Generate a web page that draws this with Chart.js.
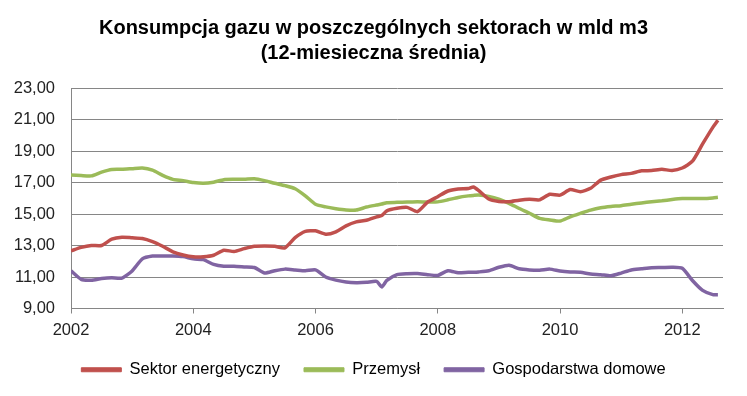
<!DOCTYPE html>
<html lang="pl">
<head>
    <meta charset="UTF-8">
    <title>Konsumpcja gazu</title>
    <script src="https://cdn.jsdelivr.net/npm/chart.js"></script>
    <style>
        html, body {
            margin: 0;
            padding: 0;
            background: #ffffff;
        }
        .wrap {
            width: 747px;
            height: 396px;
        }
    </style>
</head>
<body>
    <div class="wrap">
        <canvas id="gasChart" width="747" height="396"></canvas>
    </div>
    <script>
        // month index since Jan 2002 (12-month averages)
        const months = [0, 2, 4, 6, 8, 10, 12, 14, 16, 18, 20, 22, 24, 26, 28, 30, 32, 34, 36, 38,
            40, 42, 44, 46, 48, 50, 52, 54, 56, 58, 60, 61, 62, 64, 66, 68, 70, 72, 74, 76, 78, 79,
            80, 82, 84, 86, 88, 90, 92, 94, 96, 98, 100, 102, 104, 106, 108, 110, 112, 114, 116,
            118, 120, 122, 124, 126, 127];

        const energetyka = [12.66, 12.88, 13.0, 13.0, 13.4, 13.53, 13.49, 13.45, 13.25, 12.95, 12.6, 12.4,
            12.28, 12.28, 12.38, 12.7, 12.62, 12.8, 12.95, 12.97, 12.95, 12.85, 13.5, 13.9, 13.93, 13.72,
            13.87, 14.25, 14.5, 14.6, 14.82, 14.9, 15.2, 15.36, 15.42, 15.15, 15.75, 16.1, 16.46, 16.59,
            16.62, 16.72, 16.5, 15.95, 15.8, 15.78, 15.88, 15.93, 15.9, 16.25, 16.2, 16.55, 16.42, 16.63,
            17.15, 17.35, 17.5, 17.58, 17.74, 17.76, 17.84, 17.76, 17.92, 18.35, 19.45, 20.5, 20.95];

        const przemysl = [17.48, 17.44, 17.42, 17.66, 17.83, 17.84, 17.88, 17.92, 17.78, 17.45, 17.2, 17.12,
            17.0, 16.95, 17.02, 17.18, 17.2, 17.2, 17.24, 17.12, 16.95, 16.8, 16.6, 16.15, 15.62, 15.45,
            15.34, 15.26, 15.25, 15.44, 15.57, 15.63, 15.72, 15.74, 15.76, 15.78, 15.76, 15.77, 15.9, 16.05,
            16.15, 16.18, 16.2, 16.12, 15.95, 15.68, 15.35, 15.05, 14.72, 14.62, 14.55, 14.82, 15.04, 15.25,
            15.4, 15.48, 15.53, 15.62, 15.7, 15.78, 15.84, 15.92, 15.98, 15.99, 15.98, 16.02, 16.06];

        const gospodarstwa = [11.39, 10.85, 10.8, 10.9, 10.95, 10.93, 11.38, 12.15, 12.33, 12.33, 12.34, 12.3,
            12.15, 12.1, 11.8, 11.68, 11.68, 11.64, 11.6, 11.25, 11.4, 11.5, 11.45, 11.4, 11.45, 11.0,
            10.8, 10.68, 10.64, 10.66, 10.72, 10.37, 10.78, 11.15, 11.21, 11.22, 11.15, 11.1, 11.4, 11.27,
            11.3, 11.3, 11.32, 11.4, 11.62, 11.75, 11.52, 11.45, 11.43, 11.5, 11.38, 11.32, 11.3, 11.19,
            11.15, 11.08, 11.25, 11.45, 11.52, 11.59, 11.6, 11.62, 11.55, 10.78, 10.15, 9.88, 9.88];

        const seriesNames = ['Sektor energetyczny', 'Przemysł', 'Gospodarstwa domowe'];
        const seriesColors = ['#C0504D', '#9BBB59', '#8064A2'];
        const yTicks = [9, 11, 13, 15, 17, 19, 21, 23];
        const xTicks = [0, 24, 48, 72, 96, 120];
        const startYear = 2002;

        function toPoints(values) {
            return values.map((v, i) => ({ x: months[i], y: v }));
        }

        const tickFont = { family: "'Liberation Sans', Arial, sans-serif", size: 16.5 };

        const ctx = document.getElementById('gasChart').getContext('2d');
        const gasChart = new Chart(ctx, {
            type: 'line',
            data: {
                datasets: [energetyka, przemysl, gospodarstwa].map((vals, i) => ({
                    label: seriesNames[i],
                    data: toPoints(vals),
                    borderColor: seriesColors[i],
                    backgroundColor: seriesColors[i],
                    borderWidth: 3.5,
                    pointRadius: 0,
                    tension: 0.2
                }))
            },
            options: {
                responsive: false,
                animation: false,
                layout: { padding: { left: 0, right: 0, top: 0, bottom: 8 } },
                plugins: {
                    title: {
                        display: true,
                        text: ['Konsumpcja gazu w poszczególnych sektorach w mld m3', '(12-miesieczna średnia)'],
                        color: '#000',
                        font: { family: "'Liberation Sans Narrow', 'Arial Narrow', 'Liberation Sans', sans-serif", size: 20, weight: 'bold', lineHeight: 1.25 },
                        padding: { top: 16, bottom: 22 }
                    },
                    legend: {
                        position: 'bottom',
                        labels: {
                            color: '#000',
                            font: tickFont,
                            boxWidth: 40,
                            boxHeight: 4,
                            padding: 24,
                            generateLabels(chart) {
                                const items = Chart.defaults.plugins.legend.labels.generateLabels(chart);
                                items.forEach(it => { it.lineWidth = 1; });
                                return items;
                            }
                        }
                    },
                    tooltip: { enabled: false }
                },
                scales: {
                    x: {
                        type: 'linear',
                        min: 0,
                        max: 128,
                        afterBuildTicks(scale) {
                            scale.ticks = xTicks.map(v => ({ value: v }));
                        },
                        afterFit(scale) { scale.height = 29; },
                        ticks: {
                            color: '#222',
                            font: tickFont,
                            padding: 7,
                            maxRotation: 0,
                            autoSkip: false,
                            callback: v => String(startYear + v / 12)
                        },
                        grid: {
                            drawOnChartArea: false,
                            drawTicks: true,
                            tickLength: 5,
                            color: '#868686'
                        },
                        border: { color: '#868686', width: 1 }
                    },
                    y: {
                        min: yTicks[0],
                        max: yTicks[yTicks.length - 1],
                        afterFit(scale) { scale.width = 71; },
                        afterBuildTicks(scale) {
                            scale.ticks = yTicks.map(v => ({ value: v }));
                        },
                        ticks: {
                            color: '#222',
                            font: tickFont,
                            padding: 16,
                            callback: v => v.toFixed(2).replace('.', ',')
                        },
                        grid: {
                            color: '#868686',
                            drawTicks: false
                        },
                        border: { color: '#868686', width: 1 }
                    },
                    // empty right axis, only keeps the plot clear of the right edge
                    yRight: {
                        position: 'right',
                        afterFit(scale) { scale.width = 24; },
                        ticks: { display: false },
                        grid: { display: false },
                        border: { display: false }
                    }
                }
            }
        });
    </script>
</body>
</html>
